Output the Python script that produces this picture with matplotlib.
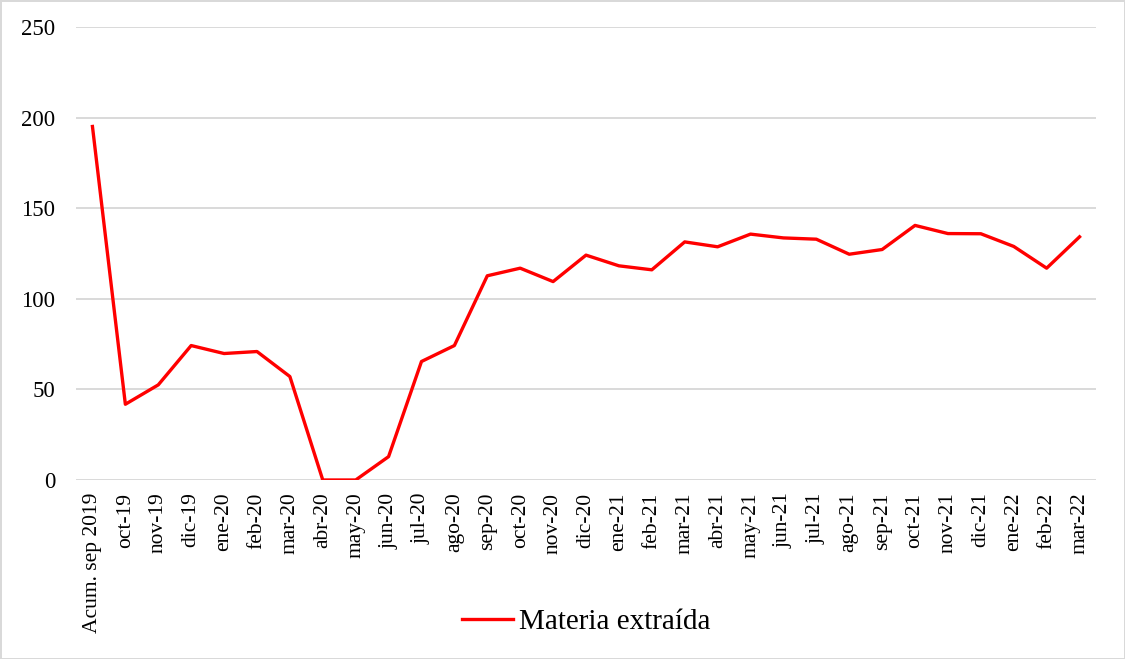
import matplotlib
matplotlib.use('Agg')
import matplotlib.pyplot as plt

meses = ['Acum. sep 2019', 'oct-19', 'nov-19', 'dic-19', 'ene-20', 'feb-20', 'mar-20',
         'abr-20', 'may-20', 'jun-20', 'jul-20', 'ago-20', 'sep-20', 'oct-20', 'nov-20',
         'dic-20', 'ene-21', 'feb-21', 'mar-21', 'abr-21', 'may-21', 'jun-21', 'jul-21',
         'ago-21', 'sep-21', 'oct-21', 'nov-21', 'dic-21', 'ene-22', 'feb-22', 'mar-22']
materia = [195.1, 41.8, 52.5, 74.2, 69.8, 70.9, 57.1,
           0, 0, 12.9, 65.4, 74.2, 112.7, 116.9, 109.5,
           124.1, 118.2, 116.0, 131.4, 128.7, 135.7, 133.6, 132.9,
           124.6, 127.2, 140.5, 136.0, 135.9, 128.9, 116.9, 134.2]
yticks = [0, 50, 100, 150, 200, 250]

plt.rcParams['font.family'] = ['Liberation Serif', 'DejaVu Serif']

fig = plt.figure(figsize=(11.25, 6.59), dpi=100, facecolor='white',
                 edgecolor='#d9d9d9', linewidth=2)
ax = fig.add_axes([76 / 1125, 1 - 480 / 659, 1020 / 1125, 453 / 659])

x = list(range(len(meses)))
ax.plot(x, materia, color='#ff0000', linewidth=2.4, label='Materia extraída', zorder=3)

ax.set_xlim(-0.5, len(meses) - 0.5)
ax.set_ylim(0, 250)
ax.set_yticks(yticks)
ax.set_xticks(x)
ax.set_xticklabels(meses, rotation=90)
ax.tick_params(axis='both', length=0, colors='black')
ax.tick_params(axis='y', pad=15, labelsize=16.5)
ax.tick_params(axis='x', pad=9, labelsize=15.5)
ax.grid(axis='y', color='#d9d9d9', linewidth=1.4)
ax.set_axisbelow(True)
for s in ax.spines.values():
    s.set_visible(False)

fig.legend(loc='center', bbox_to_anchor=(586 / 1125, 1 - 622 / 659), frameon=False,
           fontsize=21, handlelength=1.75, handletextpad=0.2)

fig.savefig('out.png', dpi=100)
